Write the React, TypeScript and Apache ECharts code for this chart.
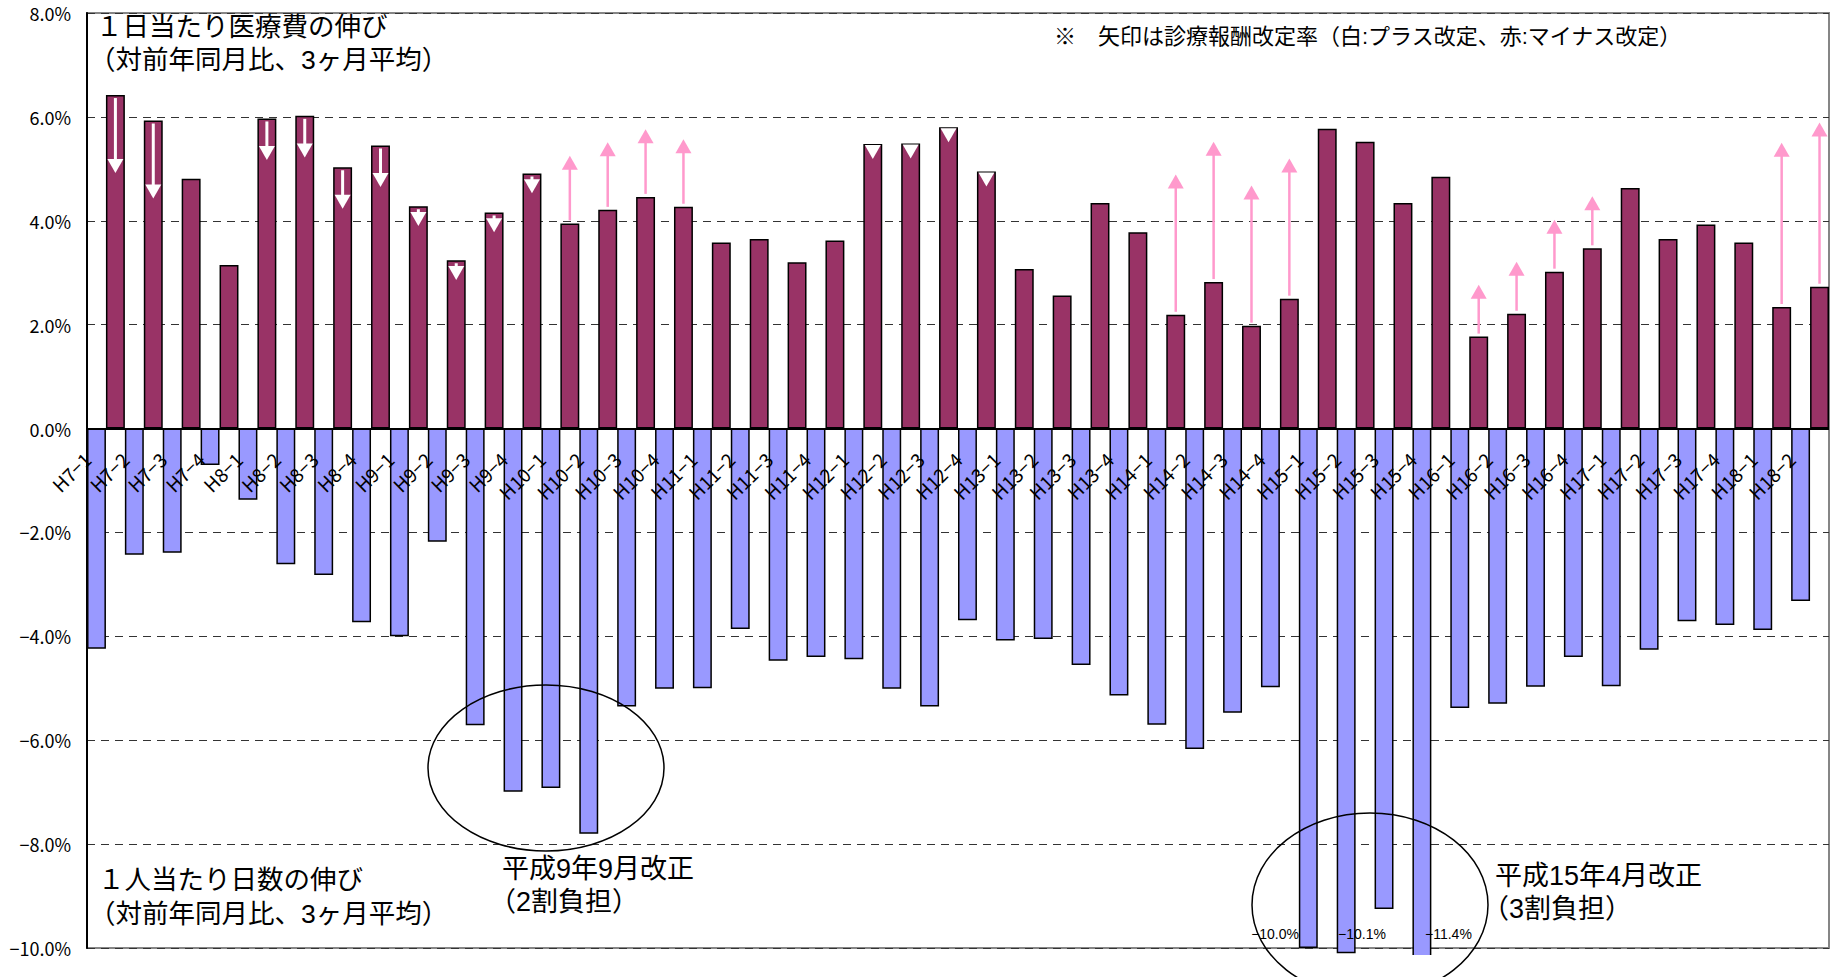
import React, { useEffect, useRef } from "react";
import * as echarts from "echarts";

// Fiscal-year quarters (H = Heisei)
const categories = [
  "H7−1", "H7−2", "H7−3", "H7−4",
  "H8−1", "H8−2", "H8−3", "H8−4",
  "H9−1", "H9−2", "H9−3", "H9−4",
  "H10−1", "H10−2", "H10−3", "H10−4",
  "H11−1", "H11−2", "H11−3", "H11−4",
  "H12−1", "H12−2", "H12−3", "H12−4",
  "H13−1", "H13−2", "H13−3", "H13−4",
  "H14−1", "H14−2", "H14−3", "H14−4",
  "H15−1", "H15−2", "H15−3", "H15−4",
  "H16−1", "H16−2", "H16−3", "H16−4",
  "H17−1", "H17−2", "H17−3", "H17−4",
  "H18−1", "H18−2",
];

// 1日当たり医療費の伸び (%)
const costPerDayGrowth = [
  6.42, 5.93, 4.81, 3.15,
  5.97, 6.02, 5.03, 5.45,
  4.28, 3.24, 4.16, 4.91,
  3.95, 4.21, 4.46, 4.27,
  3.58, 3.65, 3.2, 3.62,
  5.48, 5.49, 5.8, 4.95,
  3.07, 2.56, 4.34, 3.78,
  2.19, 2.82, 1.98, 2.5,
  5.77, 5.52, 4.34, 4.85,
  1.77, 2.21, 3.02, 3.47,
  4.63, 3.65, 3.93, 3.58,
  2.34, 2.73,
];

// 1人当たり日数の伸び (%)
const daysPerPersonGrowth = [
  -4.24, -2.43, -2.39, -0.7,
  -1.37, -2.61, -2.82, -3.73,
  -4.0, -2.18, -5.71, -6.99,
  -6.92, -7.8, -5.35, -5.01,
  -5.0, -3.86, -4.47, -4.4,
  -4.44, -5.01, -5.35, -3.69,
  -4.08, -4.05, -4.55, -5.14,
  -5.7, -6.17, -5.47, -4.98,
  -10.0, -10.1, -9.25, -11.4,
  -5.38, -5.3, -4.97, -4.4,
  -4.96, -4.26, -3.71, -3.78,
  -3.88, -3.32,
];

// 診療報酬改定率 (%) in effect for each quarter; null = no revision
const feeRevision: (number | null)[] = [
  1.5, 1.5, null, null,
  0.8, 0.8, 0.8, 0.8,
  0.38, 0.38, 0.38, 0.38,
  -1.3, -1.3, -1.3, -1.3,
  null, null, null, null,
  0.2, 0.2, 0.2, 0.2,
  null, null, null, null,
  -2.7, -2.7, -2.7, -2.7,
  null, null, null, null,
  -1.0, -1.0, -1.0, -1.0,
  null, null, null, null,
  -3.16, -3.16,
];

// value axis
const yMin = -10;
const yMax = 8;
const yStep = 2;

const FONT = "'Noto Sans CJK JP', 'Noto Sans', sans-serif";
const NOTE_FONT = "'Liberation Sans', 'Noto Sans CJK JP', sans-serif";
const PURPLE = "#993366";
const LAVENDER = "#9999FF";
const PINK = "#FF99CC";

const pct = (v: number) => (v < 0 ? "−" : "") + Math.abs(v).toFixed(1) + "%";

const arrowData = feeRevision
  .map((r, i) => (r === null ? null : [i, costPerDayGrowth[i], r]))
  .filter((d) => d !== null) as number[][];

const tickData = categories.map((_, i) => [i, 0]);

function renderArrow(params: any, api: any) {
  const i = api.value(0);
  const top = api.value(1);
  const rev = api.value(2);
  const c = api.coord([i, top]);
  const w = api.size([1, 0])[0];
  const x = c[0] + w / 4;
  const yTop = c[1];
  const yEnd = api.coord([i, top - rev])[1];
  const head = 14;
  const half = 8;
  if (rev > 0) {
    // plus revision: white arrow pointing down inside the bar
    const tip = Math.max(yEnd, yTop + head + 1);
    const base = tip - head;
    const children: any[] = [];
    if (base > yTop + 3) {
      children.push({
        type: "line",
        shape: { x1: x, y1: yTop + 3, x2: x, y2: base + 1 },
        style: { stroke: "#FFFFFF", lineWidth: 3 },
      });
    }
    children.push({
      type: "polygon",
      shape: { points: [[x - half, base], [x + half, base], [x, tip]] },
      style: { fill: "#FFFFFF" },
    });
    return { type: "group", children };
  }
  // minus revision: pink arrow pointing up above the bar
  const tip = yEnd;
  const base = tip + head;
  return {
    type: "group",
    children: [
      {
        type: "line",
        shape: { x1: x, y1: yTop - 3, x2: x, y2: base - 1 },
        style: { stroke: PINK, lineWidth: 2.5 },
      },
      {
        type: "polygon",
        shape: { points: [[x - half, base], [x + half, base], [x, tip]] },
        style: { fill: PINK },
      },
    ],
  };
}

// category labels hang from the zero line, slanted at 45°
function renderTickLabel(params: any, api: any) {
  const i = api.value(0);
  const p = api.coord([i, api.value(1)]);
  const w = api.size([1, 0])[0];
  return {
    type: "text",
    x: p[0] - w * 0.5,
    y: p[1] + 27,
    rotation: Math.PI / 4,
    style: {
      text: categories[i],
      fontSize: 19,
      fontFamily: FONT,
      fill: "#000",
      align: "right",
      verticalAlign: "middle",
    },
  };
}

const txt = (x: number, y: number, text: string, fontSize: number, align = "left") => ({
  type: "text",
  x,
  y,
  z: 30,
  style: {
    text,
    fontSize,
    lineHeight: fontSize,
    fontFamily: NOTE_FONT,
    fill: "#000",
    align,
    verticalAlign: "middle",
  },
});

export default function App() {
  const ref = useRef<HTMLDivElement>(null);

  useEffect(() => {
    if (!ref.current) return;
    const chart = echarts.init(ref.current, undefined, { renderer: "svg" });
    chart.setOption({
      animation: false,
      backgroundColor: "#FFFFFF",
      textStyle: { fontFamily: FONT },
      grid: {
        left: 87,
        right: 8,
        top: 13,
        bottom: 29,
        show: true,
        borderColor: "#868686",
        borderWidth: 2,
      },
      xAxis: {
        type: "category",
        data: categories,
        axisLine: { show: false },
        axisTick: { show: false },
        axisLabel: { show: false },
        splitLine: { show: false },
      },
      yAxis: {
        type: "value",
        min: yMin,
        max: yMax,
        interval: yStep,
        axisLine: { show: true, lineStyle: { color: "#000", width: 2 } },
        axisTick: { show: false },
        axisLabel: {
          formatter: (v: number) => pct(v),
          fontSize: 18,
          color: "#000",
          margin: 16,
          fontFamily: FONT,
        },
        splitLine: {
          show: true,
          lineStyle: { color: "#333", type: [8, 6], width: 1 },
        },
      },
      series: [
        {
          name: "1人当たり日数の伸び",
          type: "bar",
          data: daysPerPersonGrowth,
          barGap: "0%",
          barCategoryGap: "0%",
          clip: false,
          itemStyle: { color: LAVENDER, borderColor: "#000", borderWidth: 1.5 },
          markLine: {
            silent: true,
            symbol: "none",
            label: { show: false },
            lineStyle: { color: "#000", width: 2, type: "solid" },
            data: [{ yAxis: 0 }],
            z: 4,
          },
        },
        {
          name: "1日当たり医療費の伸び",
          type: "bar",
          data: costPerDayGrowth,
          barGap: "0%",
          barCategoryGap: "0%",
          itemStyle: { color: PURPLE, borderColor: "#000", borderWidth: 1.5 },
        },
        {
          name: "診療報酬改定率",
          type: "custom",
          data: arrowData,
          encode: { x: 0, y: 1 },
          renderItem: renderArrow,
          z: 5,
          clip: false,
        },
        {
          name: "区分",
          type: "custom",
          data: tickData,
          encode: { x: 0, y: 1 },
          renderItem: renderTickLabel,
          z: 6,
          clip: false,
          silent: true,
        },
      ],
      graphic: [
        // trims the bars that run past the bottom of the plot
        {
          type: "rect",
          z: 20,
          shape: { x: 88, y: 955, width: 1749, height: 40 },
          style: { fill: "#FFFFFF" },
        },
        {
          type: "ellipse",
          z: 25,
          shape: { cx: 546, cy: 768, rx: 118, ry: 83 },
          style: { fill: "none", stroke: "#000", lineWidth: 1.5 },
        },
        {
          type: "ellipse",
          z: 25,
          shape: { cx: 1370, cy: 905, rx: 118, ry: 92 },
          style: { fill: "none", stroke: "#000", lineWidth: 1.5 },
        },
        txt(96, 27, "１日当たり医療費の伸び", 26.5),
        txt(89, 60, "（対前年同月比、3ヶ月平均）", 26.5),
        txt(98, 880, "１人当たり日数の伸び", 26.5),
        txt(89, 914, "（対前年同月比、3ヶ月平均）", 26.5),
        txt(1054, 36, "※　矢印は診療報酬改定率（白:プラス改定、赤:マイナス改定）", 22),
        txt(502, 869, "平成9年9月改正", 27),
        txt(489, 902, "（2割負担）", 27),
        txt(1495, 876, "平成15年4月改正", 27),
        txt(1482, 909, "（3割負担）", 27),
        txt(1299, 934, pct(daysPerPersonGrowth[32]), 14, "right"),
        txt(1362, 934, pct(daysPerPersonGrowth[33]), 14, "center"),
        txt(1425, 934, pct(daysPerPersonGrowth[35]), 14, "left"),
      ],
    });
    return () => chart.dispose();
  }, []);

  return (
    <div
      ref={ref}
      style={{ position: "fixed", left: 0, top: 0, width: 1837, height: 977, background: "#fff" }}
    />
  );
}
